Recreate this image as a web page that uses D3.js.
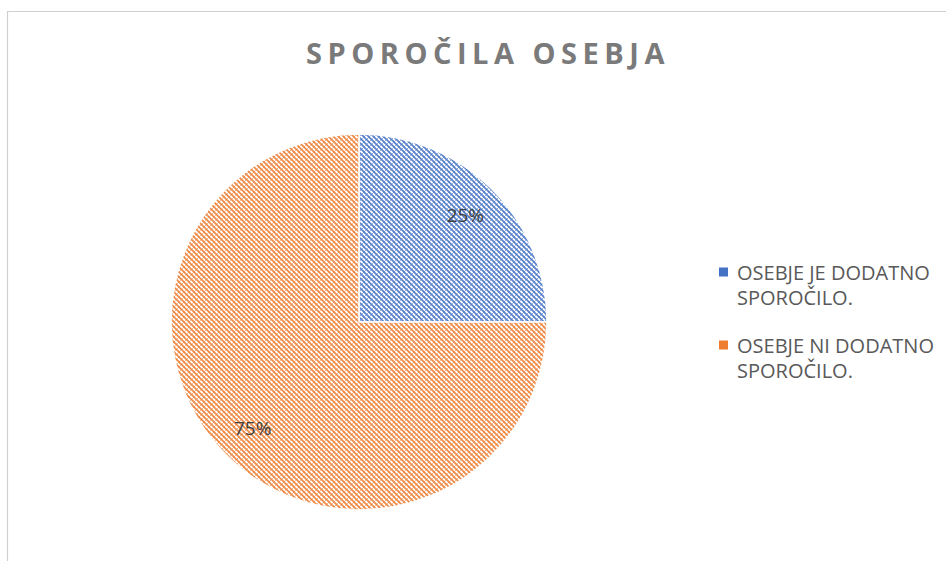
<!DOCTYPE html>
<html>
<head>
<meta charset="utf-8">
<script src="https://cdn.jsdelivr.net/npm/d3@7"></script>
<style>
  body { margin: 0; background: #fff; }
  svg { display: block; }
</style>
</head>
<body>
<div class="container"></div>
<script>
const categories = ["OSEBJE JE DODATNO SPOROČILO.", "OSEBJE NI DODATNO SPOROČILO."],
    legendLines = [["OSEBJE JE DODATNO", "SPOROČILO."], ["OSEBJE NI DODATNO", "SPOROČILO."]],
    values = [25, 75],
    colors = ["#4472C4", "#ED7D31"],
    title = "SPOROČILA OSEBJA";

const width = 946, height = 561,
    cx = 359, cy = 322, radius = 188;

const svg = d3.select('.container')
    .append('svg')
    .attr('width', width)
    .attr('height', height);

// hatch patterns, one per series
const defs = svg.append('defs');
colors.forEach((c, i) => {
    const p = defs.append('pattern')
        .attr('id', 'hatch' + i)
        .attr('patternUnits', 'userSpaceOnUse')
        .attr('width', 5)
        .attr('height', 5);
    p.append('rect').attr('width', 5).attr('height', 5).attr('fill', '#fff');
    p.append('path')
        .attr('d', 'M-1,-1 L6,6 M-4,1 L1,6 M4,-1 L6,1')
        .attr('stroke', c).attr('stroke-width', 1.6).attr('opacity', 0.9);
    p.append('path')
        .attr('d', 'M-1,6 L6,-1 M-1,1 L1,-1 M4,6 L6,4')
        .attr('stroke', c).attr('stroke-width', 1).attr('opacity', 0.55);
});

// chart frame
svg.append('path')
    .attr('d', `M7.5,${height} L7.5,11.5 L${width},11.5`)
    .attr('fill', 'none')
    .attr('stroke', '#d0d0d0')
    .attr('stroke-width', 1.2);

svg.append('text')
    .attr('x', 488)
    .attr('y', 64)
    .attr('text-anchor', 'middle')
    .attr('font-family', '"Open Sans", sans-serif')
    .attr('font-weight', 'bold')
    .attr('font-size', 29)
    .attr('letter-spacing', 5.5)
    .attr('fill', '#7a7a7a')
    .text(title);

const pie = d3.pie().sort(null).value(d => d);
const arc = d3.arc().innerRadius(0).outerRadius(radius);
const labelArc = d3.arc().innerRadius(radius * 0.8).outerRadius(radius * 0.8);

const g = svg.append('g').attr('transform', `translate(${cx},${cy})`);
const arcs = pie(values);

g.selectAll('path.slice')
    .data(arcs)
    .join('path')
    .attr('class', 'slice')
    .attr('d', arc)
    .attr('fill', (d, i) => `url(#hatch${i})`)
    .attr('stroke', '#fff')
    .attr('stroke-width', 1.5);

const total = d3.sum(values);
g.selectAll('text.pct')
    .data(arcs)
    .join('text')
    .attr('class', 'pct')
    .attr('transform', d => `translate(${labelArc.centroid(d)})`)
    .attr('text-anchor', 'middle')
    .attr('dy', '0.35em')
    .attr('font-family', '"Open Sans", sans-serif')
    .attr('font-size', 19)
    .attr('fill', '#404040')
    .text(d => Math.round(d.data / total * 100) + '%');

// legend
const legend = svg.append('g').attr('transform', 'translate(719,0)');
const legendY = d3.scalePoint().domain(categories).range([272, 345]);
categories.forEach((c, i) => {
    const y = legendY(c);
    legend.append('rect')
        .attr('x', 0).attr('y', y - 4.5)
        .attr('width', 9).attr('height', 9)
        .attr('fill', colors[i]);
    legendLines[i].forEach((line, j) => {
        legend.append('text')
            .attr('x', 18)
            .attr('y', y + 8 + j * 25)
            .attr('font-family', '"Open Sans", sans-serif')
            .attr('font-size', 20)
            .attr('fill', '#595959')
            .text(line);
    });
});
</script>
</body>
</html>
